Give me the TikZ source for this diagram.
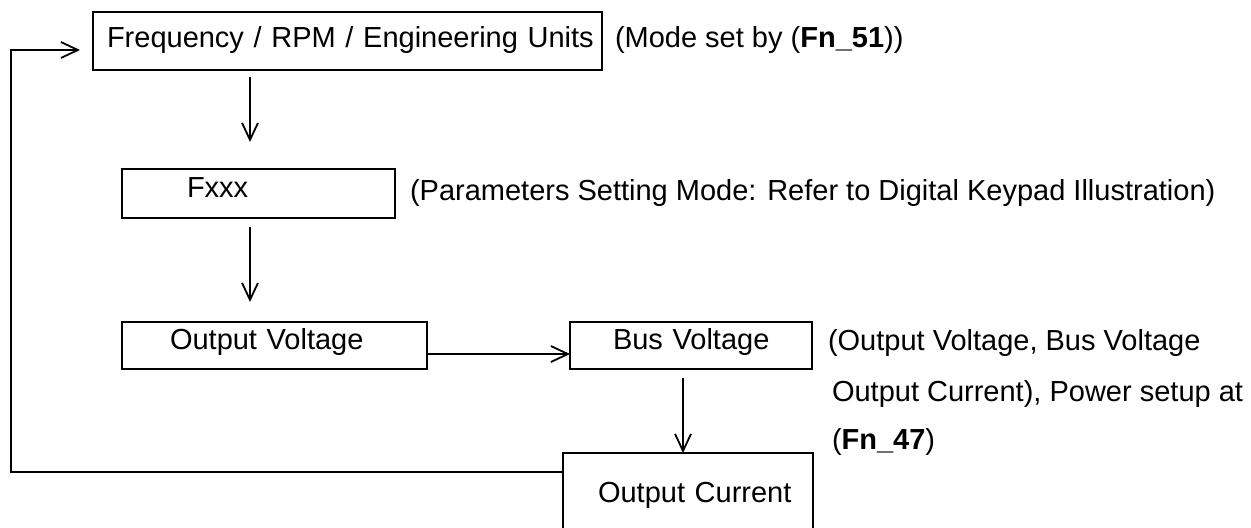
\documentclass[tikz,border=0pt]{standalone}
\usepackage{fontspec}
\setmainfont{Liberation Sans}
\usetikzlibrary{arrows.meta}
\begin{document}
\begin{tikzpicture}[x=0.5pt, y=-0.5pt, font=\fontsize{14.5}{17}\selectfont,
  box/.style={draw, line width=1.1pt, inner sep=0pt, outer sep=0pt, align=left, text depth=0pt},
  note/.style={anchor=base west, inner sep=0pt, outer sep=0pt},
  arr/.style={line width=0.9pt, -{Straight Barb[length=8.5pt, width=8pt]}}]
\useasboundingbox (0,0) rectangle (1251,527);
\clip (0,0) rectangle (1251,527);

\node[box, minimum width=254.5pt, minimum height=29pt, text width=254.5pt, text height=6pt] (b1) at (347.5,41) {\hspace*{7pt}Frequency / RPM / Engineering Units};
\node[box, minimum width=136.5pt, minimum height=24.5pt, text width=136.5pt, text height=3.5pt] (b2) at (258.5,193.5) {\hspace*{32.5pt}Fxxx};
\node[box, minimum width=152.5pt, minimum height=23.5pt, text width=152.5pt, text height=3.5pt] (b3) at (274.5,345.5) {\hspace*{24pt}Output Voltage};
\node[box, minimum width=121pt, minimum height=23.5pt, text width=121pt, text height=3.5pt] (b4) at (691,345.5) {\hspace*{21.5pt}Bus Voltage};
\node[box, minimum width=125pt, minimum height=44pt, text width=125pt, text height=5pt] (b5) at (688,497) {\hspace*{17.5pt}Output Current};

\node[note] (n1) at (615,47) {(Mode set by (\textbf{Fn\_51}))};
\node[note] (n2) at (410,200) {(Parameters Setting Mode: Refer to Digital Keypad Illustration)};
\node[note] (n3) at (828,350) {(Output Voltage, Bus Voltage};
\node[note] (n4) at (832,401) {Output Current), Power setup at};
\node[note] (n5) at (832,449) {(\textbf{Fn\_47})};

\draw[arr, shorten <=3.5pt, shorten >=13.5pt] ([xshift=78.5pt]b1.south west) -- ([xshift=64pt]b2.north west);
\draw[arr, shorten <=4.5pt, shorten >=10pt] ([xshift=64pt]b2.south west) -- ([xshift=64pt]b3.north west);
\draw[arr] ([yshift=-4.25pt]b3.east) -- ([yshift=-4.25pt]b4.west);
\draw[arr, shorten <=4.5pt] ([xshift=56.5pt]b4.south west) -- ([xshift=60pt]b5.north west);
\coordinate (c1) at (11,50);
\draw[arr, shorten >=6.5pt] ([yshift=12.5pt]b5.west) -| (c1) -- ([yshift=-4.5pt]b1.west);
\end{tikzpicture}
\end{document}
